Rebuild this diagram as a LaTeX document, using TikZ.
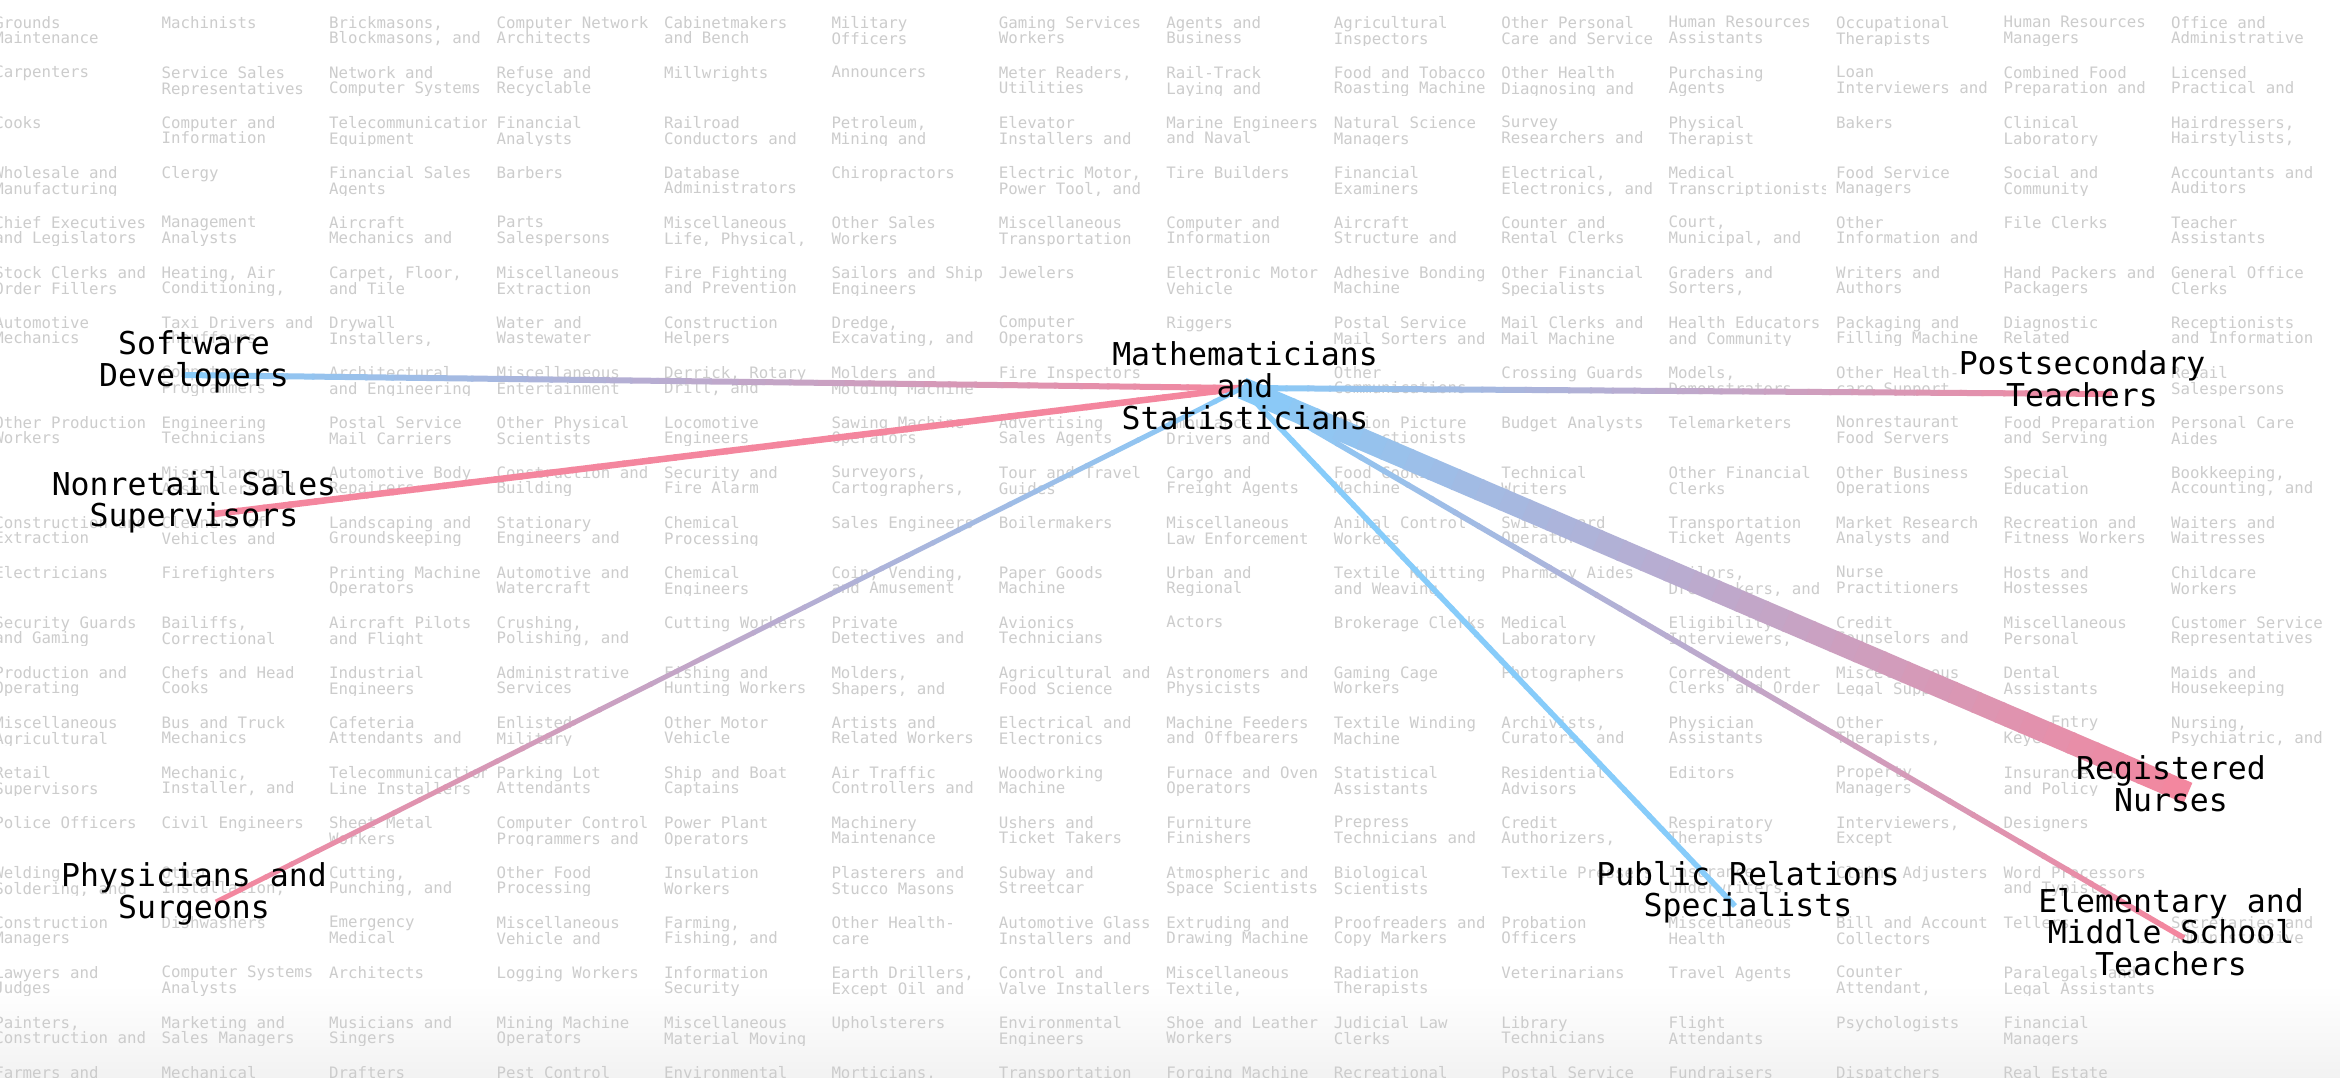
\documentclass[tikz,border=0pt]{standalone}
\usepackage{fontspec}
\setmonofont{DejaVu Sans Mono}
\usepackage{xcolor}
\definecolor{edgeblue}{RGB}{135,204,250}
\definecolor{edgepink}{RGB}{244,134,158}
\definecolor{gridtext}{RGB}{204,204,204}
\usepackage{tikz}
\usetikzlibrary{positioning,calc}

\tikzset{
  cell/.style={anchor=north west, inner sep=0pt, outer sep=0pt, text=gridtext, align=left,
    font=\fontsize{15.75}{15.7}\selectfont\ttfamily},
  occlabel/.style={anchor=north, inner sep=0pt, outer sep=0pt, align=center, text=black,
    font=\fontsize{31.5}{31.7}\selectfont\ttfamily},
  edge/.style={line cap=butt}
}

% one grey job title of the grid, cut to its cell
\newcommand{\occcell}[3]{%
  \begin{scope}
    \clip ({-7.7+167.44*#1},{50*#2}) rectangle ++(159,45.5);
    \node[cell] (cell-#1-#2) at ({-5.7+167.44*#1},{16.3+50*#2}) {#3};
  \end{scope}}

% connector that fades from #4 (at #1) to #5 (at #2)
\newcommand{\gradedge}[5]{%
  \foreach \k in {0,...,39}{%
    \pgfmathsetmacro{\segpct}{100-2.5*(\k+0.5)}%
    \pgfmathsetmacro{\segend}{min(\k+1.1,40)/40}%
    \draw[edge, line width=#3, #4!\segpct!#5]
      ($(#1)!\k/40!(#2)$) -- ($(#1)!\segend!(#2)$);
  }}

\begin{document}
\begin{tikzpicture}[x=1pt, y=-1pt]
  \useasboundingbox (0,0) rectangle (2340,1078);
  \fill[white] (0,0) rectangle (2340,1078);
  \shade[top color=white, bottom color=black!5] (0,985) rectangle (2340,1078);

  % Grid of occupations
  \foreach \txt [count=\cl from 0] in {{Grounds\\Maintenance},Machinists,{Brickmasons,\\Blockmasons, and},{Computer Network\\Architects},{Cabinetmakers\\and Bench},{Military\\Officers},{Gaming Services\\Workers},{Agents and\\Business},{Agricultural\\Inspectors},{Other Personal\\Care and Service},{Human Resources\\Assistants},{Occupational\\Therapists},{Human Resources\\Managers},{Office and\\Administrative}} {\occcell{\cl}{0}{\txt}}
  \foreach \txt [count=\cl from 0] in {Carpenters,{Service Sales\\Representatives},{Network and\\Computer Systems},{Refuse and\\Recyclable},Millwrights,Announcers,{Meter Readers,\\Utilities},{Rail-Track\\Laying and},{Food and Tobacco\\Roasting Machine},{Other Health\\Diagnosing and},{Purchasing\\Agents},{Loan\\Interviewers and},{Combined Food\\Preparation and},{Licensed\\Practical and}} {\occcell{\cl}{1}{\txt}}
  \foreach \txt [count=\cl from 0] in {Cooks,{Computer and\\Information},{Telecommunications\\Equipment},{Financial\\Analysts},{Railroad\\Conductors and},{Petroleum,\\Mining and},{Elevator\\Installers and},{Marine Engineers\\and Naval},{Natural Science\\Managers},{Survey\\Researchers and},{Physical\\Therapist},Bakers,{Clinical\\Laboratory},{Hairdressers,\\Hairstylists,}} {\occcell{\cl}{2}{\txt}}
  \foreach \txt [count=\cl from 0] in {{Wholesale and\\Manufacturing},Clergy,{Financial Sales\\Agents},Barbers,{Database\\Administrators},Chiropractors,{Electric Motor,\\Power Tool, and},{Tire Builders},{Financial\\Examiners},{Electrical,\\Electronics, and},{Medical\\Transcriptionists},{Food Service\\Managers},{Social and\\Community},{Accountants and\\Auditors}} {\occcell{\cl}{3}{\txt}}
  \foreach \txt [count=\cl from 0] in {{Chief Executives\\and Legislators},{Management\\Analysts},{Aircraft\\Mechanics and},{Parts\\Salespersons},{Miscellaneous\\Life, Physical,},{Other Sales\\Workers},{Miscellaneous\\Transportation},{Computer and\\Information},{Aircraft\\Structure and},{Counter and\\Rental Clerks},{Court,\\Municipal, and},{Other\\Information and},{File Clerks},{Teacher\\Assistants}} {\occcell{\cl}{4}{\txt}}
  \foreach \txt [count=\cl from 0] in {{Stock Clerks and\\Order Fillers},{Heating, Air\\Conditioning,},{Carpet, Floor,\\and Tile},{Miscellaneous\\Extraction},{Fire Fighting\\and Prevention},{Sailors and Ship\\Engineers},Jewelers,{Electronic Motor\\Vehicle},{Adhesive Bonding\\Machine},{Other Financial\\Specialists},{Graders and\\Sorters,},{Writers and\\Authors},{Hand Packers and\\Packagers},{General Office\\Clerks}} {\occcell{\cl}{5}{\txt}}
  \foreach \txt [count=\cl from 0] in {{Automotive\\Mechanics},{Taxi Drivers and\\Chauffeurs},{Drywall\\Installers,},{Water and\\Wastewater},{Construction\\Helpers},{Dredge,\\Excavating, and},{Computer\\Operators},Riggers,{Postal Service\\Mail Sorters and},{Mail Clerks and\\Mail Machine},{Health Educators\\and Community},{Packaging and\\Filling Machine},{Diagnostic\\Related},{Receptionists\\and Information}} {\occcell{\cl}{6}{\txt}}
  \foreach \txt [count=\cl from 0] in {{},{Computer\\Programmers},{Architectural\\and Engineering},{Miscellaneous\\Entertainment},{Derrick, Rotary\\Drill, and},{Molders and\\Molding Machine},{Fire Inspectors},{},{Other\\Communications},{Crossing Guards},{Models,\\Demonstrators},{Other Health-\\care Support},{},{Retail\\Salespersons}} {\occcell{\cl}{7}{\txt}}
  \foreach \txt [count=\cl from 0] in {{Other Production\\Workers},{Engineering\\Technicians},{Postal Service\\Mail Carriers},{Other Physical\\Scientists},{Locomotive\\Engineers},{Sawing Machine\\Operators},{Advertising\\Sales Agents},{Ambulance\\Drivers and},{Motion Picture\\Projectionists},{Budget Analysts},Telemarketers,{Nonrestaurant\\Food Servers},{Food Preparation\\and Serving},{Personal Care\\Aides}} {\occcell{\cl}{8}{\txt}}
  \foreach \txt [count=\cl from 0] in {{},{Miscellaneous\\Assemblers and},{Automotive Body\\Repairers},{Construction and\\Building},{Security and\\Fire Alarm},{Surveyors,\\Cartographers,},{Tour and Travel\\Guides},{Cargo and\\Freight Agents},{Food Cooking\\Machine},{Technical\\Writers},{Other Financial\\Clerks},{Other Business\\Operations},{Special\\Education},{Bookkeeping,\\Accounting, and}} {\occcell{\cl}{9}{\txt}}
  \foreach \txt [count=\cl from 0] in {{Construction and\\Extraction},{Cleaners of\\Vehicles and},{Landscaping and\\Groundskeeping},{Stationary\\Engineers and},{Chemical\\Processing},{Sales Engineers},Boilermakers,{Miscellaneous\\Law Enforcement},{Animal Control\\Workers},{Switchboard\\Operators},{Transportation\\Ticket Agents},{Market Research\\Analysts and},{Recreation and\\Fitness Workers},{Waiters and\\Waitresses}} {\occcell{\cl}{10}{\txt}}
  \foreach \txt [count=\cl from 0] in {Electricians,Firefighters,{Printing Machine\\Operators},{Automotive and\\Watercraft},{Chemical\\Engineers},{Coin, Vending,\\and Amusement},{Paper Goods\\Machine},{Urban and\\Regional},{Textile Knitting\\and Weaving},{Pharmacy Aides},{Tailors,\\Dressmakers, and},{Nurse\\Practitioners},{Hosts and\\Hostesses},{Childcare\\Workers}} {\occcell{\cl}{11}{\txt}}
  \foreach \txt [count=\cl from 0] in {{Security Guards\\and Gaming},{Bailiffs,\\Correctional},{Aircraft Pilots\\and Flight},{Crushing,\\Polishing, and},{Cutting Workers},{Private\\Detectives and},{Avionics\\Technicians},Actors,{Brokerage Clerks},{Medical\\Laboratory},{Eligibility\\Interviewers,},{Credit\\Counselors and},{Miscellaneous\\Personal},{Customer Service\\Representatives}} {\occcell{\cl}{12}{\txt}}
  \foreach \txt [count=\cl from 0] in {{Production and\\Operating},{Chefs and Head\\Cooks},{Industrial\\Engineers},{Administrative\\Services},{Fishing and\\Hunting Workers},{Molders,\\Shapers, and},{Agricultural and\\Food Science},{Astronomers and\\Physicists},{Gaming Cage\\Workers},Photographers,{Correspondent\\Clerks and Order},{Miscellaneous\\Legal Support},{Dental\\Assistants},{Maids and\\Housekeeping}} {\occcell{\cl}{13}{\txt}}
  \foreach \txt [count=\cl from 0] in {{Miscellaneous\\Agricultural},{Bus and Truck\\Mechanics},{Cafeteria\\Attendants and},{Enlisted\\Military},{Other Motor\\Vehicle},{Artists and\\Related Workers},{Electrical and\\Electronics},{Machine Feeders\\and Offbearers},{Textile Winding\\Machine},{Archivists,\\Curators, and},{Physician\\Assistants},{Other\\Therapists,},{Data Entry\\Keyers},{Nursing,\\Psychiatric, and}} {\occcell{\cl}{14}{\txt}}
  \foreach \txt [count=\cl from 0] in {{Retail\\Supervisors},{Mechanic,\\Installer, and},{Telecommunications\\Line Installers},{Parking Lot\\Attendants},{Ship and Boat\\Captains},{Air Traffic\\Controllers and},{Woodworking\\Machine},{Furnace and Oven\\Operators},{Statistical\\Assistants},{Residential\\Advisors},Editors,{Property\\Managers},{Insurance Claims\\and Policy},{}} {\occcell{\cl}{15}{\txt}}
  \foreach \txt [count=\cl from 0] in {{Police Officers},{Civil Engineers},{Sheet Metal\\Workers},{Computer Control\\Programmers and},{Power Plant\\Operators},{Machinery\\Maintenance},{Ushers and\\Ticket Takers},{Furniture\\Finishers},{Prepress\\Technicians and},{Credit\\Authorizers,},{Respiratory\\Therapists},{Interviewers,\\Except},Designers,{}} {\occcell{\cl}{16}{\txt}}
  \foreach \txt [count=\cl from 0] in {{Welding,\\Soldering, and},{Other\\Installation,},{Cutting,\\Punching, and},{Other Food\\Processing},{Insulation\\Workers},{Plasterers and\\Stucco Masons},{Subway and\\Streetcar},{Atmospheric and\\Space Scientists},{Biological\\Scientists},{Textile Pressers},{Insurance\\Underwriters},{Claims Adjusters},{Word Processors\\and Typists},{}} {\occcell{\cl}{17}{\txt}}
  \foreach \txt [count=\cl from 0] in {{Construction\\Managers},Dishwashers,{Emergency\\Medical},{Miscellaneous\\Vehicle and},{Farming,\\Fishing, and},{Other Health-\\care},{Automotive Glass\\Installers and},{Extruding and\\Drawing Machine},{Proofreaders and\\Copy Markers},{Probation\\Officers},{Miscellaneous\\Health},{Bill and Account\\Collectors},Tellers,{Secretaries and\\Administrative}} {\occcell{\cl}{18}{\txt}}
  \foreach \txt [count=\cl from 0] in {{Lawyers and\\Judges},{Computer Systems\\Analysts},Architects,{Logging Workers},{Information\\Security},{Earth Drillers,\\Except Oil and},{Control and\\Valve Installers},{Miscellaneous\\Textile,},{Radiation\\Therapists},Veterinarians,{Travel Agents},{Counter\\Attendant,},{Paralegals and\\Legal Assistants},{}} {\occcell{\cl}{19}{\txt}}
  \foreach \txt [count=\cl from 0] in {{Painters,\\Construction and},{Marketing and\\Sales Managers},{Musicians and\\Singers},{Mining Machine\\Operators},{Miscellaneous\\Material Moving},Upholsterers,{Environmental\\Engineers},{Shoe and Leather\\Workers},{Judicial Law\\Clerks},{Library\\Technicians},{Flight\\Attendants},Psychologists,{Financial\\Managers},{}} {\occcell{\cl}{20}{\txt}}
  \foreach \txt [count=\cl from 0] in {{Farmers and},Mechanical,Drafters,{Pest Control},Environmental,{Morticians,},Transportation,{Forging Machine},Recreational,{Postal Service},Fundraisers,Dispatchers,{Real Estate},{}} {\occcell{\cl}{21}{\txt}}

  % Link points
  \coordinate (math) at (1242,388);
  \coordinate (softdev) at (182,375);
  \coordinate (nonretail) at (214,514);
  \coordinate (physicians) at (216,902);
  \coordinate (postsec) at (2112,394);
  \coordinate (nurses) at (2188,793);
  \coordinate (elementary) at (2184,938);
  \coordinate (publicrel) at (1735,906);

  % Links
  \gradedge{math}{softdev}{6}{edgepink}{edgeblue}
  \gradedge{math}{nonretail}{6.5}{edgepink}{edgepink}
  \gradedge{math}{physicians}{5}{edgeblue}{edgepink}
  \gradedge{math}{postsec}{6}{edgeblue}{edgepink}
  \gradedge{math}{elementary}{5.5}{edgeblue}{edgepink}
  \gradedge{math}{publicrel}{5.5}{edgeblue}{edgeblue}
  \gradedge{math}{nurses}{22}{edgeblue}{edgepink}

  % Labels
  \node[occlabel] (math-label) at (1245,342) {Mathematicians\\and\\Statisticians};
  \node[occlabel] (softdev-label) at (194,331) {Software\\Developers};
  \node[occlabel] (nonretail-label) at (194,471) {Nonretail Sales\\Supervisors};
  \node[occlabel] (physicians-label) at (194,863) {Physicians and\\Surgeons};
  \node[occlabel] (postsec-label) at (2082,351) {Postsecondary\\Teachers};
  \node[occlabel] (nurses-label) at (2171,756) {Registered\\Nurses};
  \node[occlabel] (elementary-label) at (2171,888) {Elementary and\\Middle School\\Teachers};
  \node[occlabel] (publicrel-label) at (1748,861) {Public Relations\\Specialists};
\end{tikzpicture}
\end{document}
